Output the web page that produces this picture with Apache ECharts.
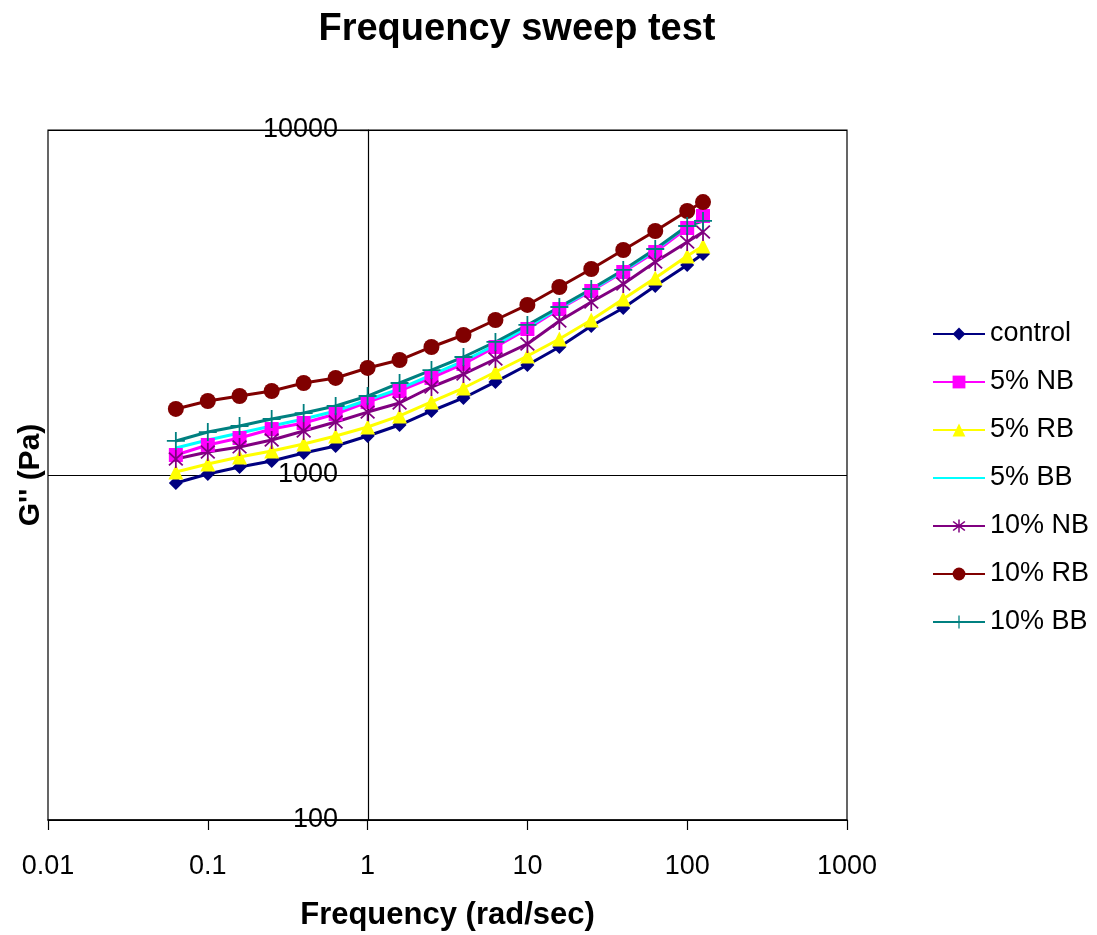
<!DOCTYPE html>
<html>
<head>
<meta charset="utf-8">
<style>html,body{margin:0;padding:0;background:#fff;}#c{width:1097px;height:935px;}</style>
<script src="https://cdn.jsdelivr.net/npm/echarts@6/dist/echarts.min.js"></script>
</head>
<body>
<div id="c"></div>
<script>
const freq = [0.0631, 0.1, 0.158, 0.251, 0.398, 0.631, 1, 1.585, 2.51, 3.98, 6.31, 10, 15.85, 25.1, 39.8, 63.1, 100, 125.6];
const control = [948, 1007, 1055, 1098, 1158, 1214, 1297, 1396, 1533, 1672, 1861, 2084, 2350, 2704, 3049, 3530, 4061, 4371];
const nb5 = [1143, 1222, 1280, 1359, 1415, 1502, 1628, 1752, 1911, 2098, 2350, 2650, 3028, 3415, 3877, 4430, 5200, 5633];
const rb5 = [1020, 1076, 1128, 1174, 1230, 1297, 1378, 1483, 1628, 1787, 1989, 2213, 2479, 2814, 3237, 3724, 4313, 4611];
const bb5 = [1197, 1263, 1323, 1387, 1453, 1533, 1650, 1776, 1950, 2140, 2381, 2686, 3049, 3438, 3903, 4489, 5270, 5522];
const nb10 = [1113, 1166, 1206, 1263, 1341, 1424, 1522, 1617, 1799, 1962, 2169, 2398, 2795, 3173, 3578, 4144, 4736, 5063];
const rb10 = [1554, 1639, 1694, 1752, 1848, 1911, 2043, 2154, 2350, 2546, 2814, 3111, 3507, 3955, 4489, 5097, 5824, 6183];
const bb10 = [1255, 1332, 1387, 1453, 1512, 1585, 1694, 1848, 2015, 2198, 2430, 2722, 3069, 3461, 3929, 4519, 5270, 5449];
const seriesNames = ['control', '5% NB', '5% RB', '5% BB', '10% NB', '10% RB', '10% BB'];
const xTicks = [0.01, 0.1, 1, 10, 100, 1000];
const yTicks = [100, 1000, 10000];

const FONT = "'Liberation Sans', Arial, sans-serif";
const pair = arr => arr.map((v, i) => [freq[i], v]);

const plusPath = 'path://M-10,-100 L10,-100 L10,100 L-10,100 Z M-100,-10 L100,-10 L100,10 L-100,10 Z';
const starPath = 'path://M-9,-100 L9,-100 L9,100 L-9,100 Z ' +
  'M-64,-77 L77,64 L64,77 L-77,-64 Z ' +
  'M64,-77 L77,-64 L-64,77 L-77,64 Z';

function mk(name, data, color, symbol, size) {
  return {
    name: name,
    type: 'line',
    data: pair(data),
    symbol: symbol,
    symbolSize: size,
    showSymbol: symbol !== 'none',
    lineStyle: { color: color, width: 3 },
    itemStyle: { color: color, borderWidth: 0 },
    emphasis: { disabled: true },
    animation: false
  };
}

const legendData = seriesNames.map(n => n === '5% BB'
  ? { name: n, itemStyle: { opacity: 0 } }
  : { name: n });

const chart = echarts.init(document.getElementById('c'), null, { renderer: 'canvas' });
chart.setOption({
  backgroundColor: '#ffffff',
  animation: false,
  title: {
    text: 'Frequency sweep test',
    left: 512,
    textAlign: 'center',
    top: 6,
    textStyle: { fontFamily: FONT, fontSize: 38, fontWeight: 'bold', color: '#000' }
  },
  legend: {
    orient: 'vertical',
    left: 927,
    top: 315,
    itemWidth: 52,
    itemHeight: 16,
    itemGap: 20,
    textStyle: { fontFamily: FONT, fontSize: 27, color: '#000', lineHeight: 28 },
    data: legendData
  },
  grid: {
    left: 48, right: 250, top: 130, bottom: 115,
    outerBoundsMode: 'none',
    containLabel: false,
    show: true, borderColor: '#000', borderWidth: 1.2, backgroundColor: 'transparent'
  },
  xAxis: {
    type: 'log',
    logBase: 10,
    min: xTicks[0],
    max: xTicks[xTicks.length - 1],
    name: 'Frequency (rad/sec)',
    nameLocation: 'middle',
    nameGap: 80,
    nameTextStyle: { fontFamily: FONT, fontSize: 31, fontWeight: 'bold', color: '#000' },
    axisLine: { show: true, lineStyle: { color: '#000', width: 1.5 } },
    axisTick: { show: true, length: 10, lineStyle: { color: '#000', width: 1.2 } },
    minorTick: { show: false },
    splitLine: { show: false },
    axisLabel: {
      fontFamily: FONT, fontSize: 27, color: '#000', margin: 33,
      formatter: v => String(+(+v).toPrecision(6))
    }
  },
  yAxis: {
    type: 'log',
    logBase: 10,
    min: yTicks[0],
    max: yTicks[yTicks.length - 1],
    offset: -320,
    name: "G'' (Pa)",
    nameLocation: 'middle',
    nameGap: 322,
    nameRotate: 90,
    nameTextStyle: { fontFamily: FONT, fontSize: 30, fontWeight: 'bold', color: '#000' },
    axisLine: { show: true, lineStyle: { color: '#000', width: 1.2 } },
    axisTick: { show: true, length: 8, lineStyle: { color: '#000', width: 1.2 } },
    splitLine: { show: true, lineStyle: { color: '#000', width: 1.2 } },
    axisLabel: {
      fontFamily: FONT, fontSize: 27, color: '#000', margin: 30,
      formatter: v => String(Math.round(v))
    }
  },
  series: [
    mk(seriesNames[0], control, '#000080', 'diamond', 14),
    mk(seriesNames[1], nb5, '#FF00FF', 'rect', 14),
    mk(seriesNames[2], rb5, '#FFFF00', 'triangle', 15),
    mk(seriesNames[3], bb5, '#00FFFF', 'none', 0),
    mk(seriesNames[4], nb10, '#800080', starPath, [15, 18]),
    mk(seriesNames[5], rb10, '#800000', 'circle', 16),
    mk(seriesNames[6], bb10, '#008080', plusPath, 18)
  ]
});
</script>
</body>
</html>
